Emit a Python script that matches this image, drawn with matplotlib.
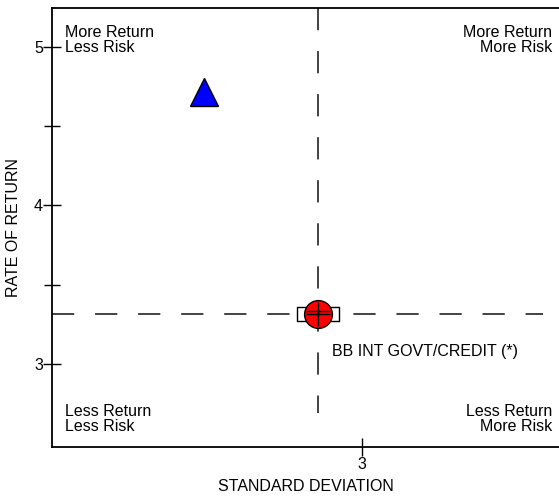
import matplotlib
matplotlib.use('Agg')
import matplotlib.pyplot as plt
from matplotlib.path import Path

plt.rcParams['font.family'] = ['Liberation Sans', 'DejaVu Sans']

# data
fund_risk = 2.377
fund_return = 4.716
index_name = 'BB INT GOVT/CREDIT (*)'
index_risk = 2.826
index_return = 3.315
x_ticks = [3]
y_ticks = [3, 4, 5]
y_minor = [3.5, 4.5]
quadrants = ['More Return\nLess Risk', 'More Return\nMore Risk',
             'Less Return\nLess Risk', 'Less Return\nMore Risk']

xlim = (1.777, 3.777)
ylim = (2.476, 5.246)
fs = 11.5

fig = plt.figure(figsize=(5.59, 4.97), dpi=100)
ax = fig.add_axes([0.093, 0.1006, 0.907, 0.8834])
ax.set_xlim(xlim)
ax.set_ylim(ylim)

# cross hairs through the index
lw = 1.2
dash = (0, (16 / lw, 15 / lw))
ax.plot([index_risk, index_risk], [ylim[1], 2.69], color='#222222', lw=lw, linestyle=dash, zorder=1)
ax.plot([xlim[0], 3.714], [index_return, index_return], color='#222222', lw=lw, linestyle=dash, zorder=1)

box = Path([(-1.55, -0.5), (1.55, -0.5), (1.55, 0.5), (-1.55, 0.5), (-1.55, -0.5)],
           [Path.MOVETO, Path.LINETO, Path.LINETO, Path.LINETO, Path.CLOSEPOLY])
ax.plot(index_risk, index_return, marker=box, markersize=30, mfc='white', mec='black', mew=1, zorder=3)
ax.plot(index_risk, index_return, marker='o', markersize=20, mfc='#ff0000', mec='black', mew=1, zorder=4)
ax.plot(index_risk, index_return, marker='+', markersize=17, mec='black', mew=1, zorder=5)
ax.plot(index_risk, index_return + 0.022, marker='_', markersize=17, mec='black', mew=1, zorder=5)

ax.plot(fund_risk, fund_return, marker='^', markersize=19.5, mfc='#0000ff', mec='black', mew=1, zorder=4)

ax.text(2.88, 3.08, index_name, fontsize=fs, ha='left', va='center')

# quadrant captions
kw = dict(transform=ax.transAxes, fontsize=fs, linespacing=1.0)
ax.text(0.025, 0.962, quadrants[0], ha='left', va='top', **kw)
ax.text(0.987, 0.962, quadrants[1], ha='right', va='top', **kw)
ax.text(0.025, 0.03, quadrants[2], ha='left', va='bottom', **kw)
ax.text(0.987, 0.03, quadrants[3], ha='right', va='bottom', **kw)

ax.set_xticks(x_ticks)
ax.set_yticks(y_ticks)
ax.set_yticks(y_minor, minor=True)
ax.tick_params(which='major', direction='inout', length=13, width=1, labelsize=fs)
ax.tick_params(which='minor', direction='inout', length=11, width=1)
ax.tick_params(axis='y', pad=0)
ax.tick_params(axis='x', pad=1)
ax.spines['right'].set_visible(False)
for s in ['left', 'top', 'bottom']:
    ax.spines[s].set_linewidth(1.3)

ax.set_xlabel('STANDARD DEVIATION', fontsize=fs, labelpad=5)
ax.set_ylabel('RATE OF RETURN', fontsize=fs, labelpad=9)

fig.savefig('out.png', dpi=100)
